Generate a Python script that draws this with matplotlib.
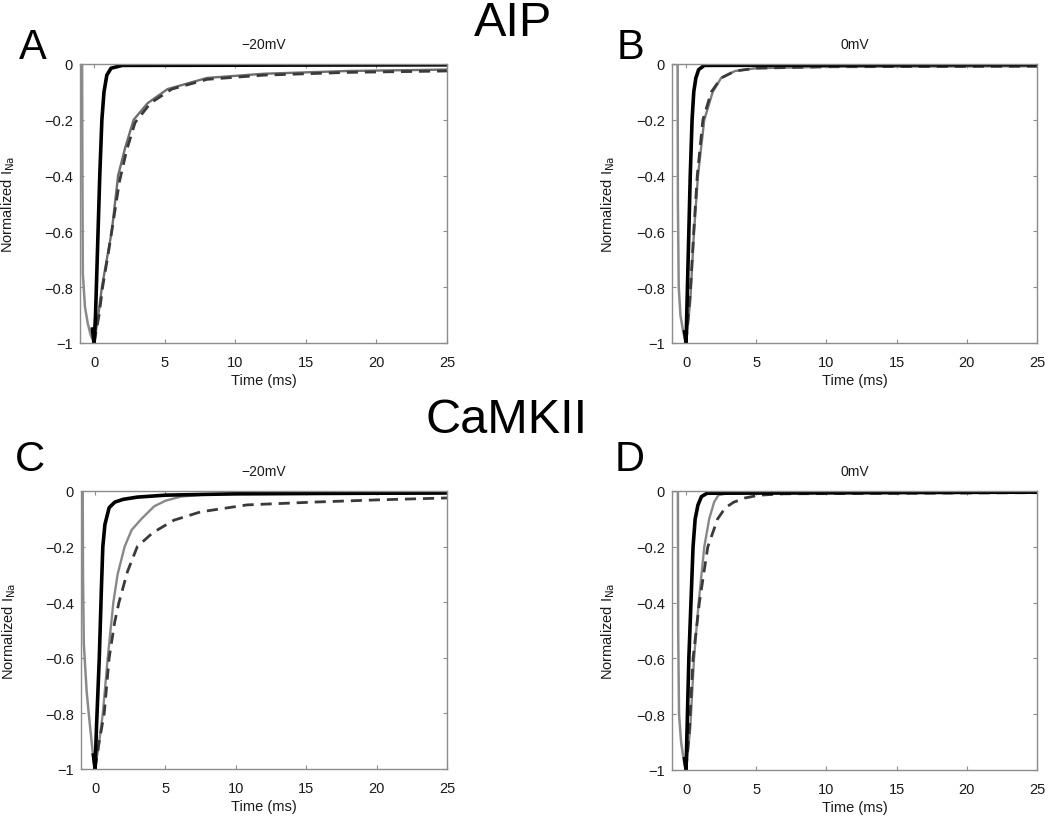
import matplotlib
matplotlib.use("Agg")
import matplotlib.pyplot as plt

plt.rcParams['font.family'] = ['Liberation Sans', 'DejaVu Sans']

# ---------------- data ----------------
# Panel A: AIP, -20 mV
a_act_t = [-0.85, -0.83, -0.8, -0.65, -0.45, -0.25, 0.0]
a_act_v = [0.0, -0.4, -0.75, -0.87, -0.93, -0.97, -1.0]
a_black_t = [-0.12, 0, 0.1, 0.25, 0.4, 0.55, 0.7, 0.9, 1.2, 2, 25]
a_black_v = [-0.95, -1, -0.9, -0.65, -0.4, -0.2, -0.1, -0.04, -0.015, -0.005, -0.003]
a_gray_t = [0, 0.3, 0.55, 0.9, 1.25, 1.7, 2.2, 2.8, 3.8, 5.2, 8, 12, 18, 25]
a_gray_v = [-1, -0.9, -0.8, -0.7, -0.6, -0.4, -0.3, -0.2, -0.14, -0.09, -0.05, -0.035, -0.025, -0.02]
a_dash_t = [0, 0.35, 0.6, 1.0, 1.4, 1.8, 2.3, 2.9, 4, 5.5, 8, 12, 18, 25]
a_dash_v = [-1, -0.9, -0.8, -0.68, -0.55, -0.42, -0.31, -0.21, -0.14, -0.09, -0.055, -0.04, -0.03, -0.025]

# Panel B: AIP, 0 mV
b_act_t = [-0.6, -0.58, -0.52, -0.4, -0.2, 0.0]
b_act_v = [0.0, -0.5, -0.8, -0.9, -0.96, -1.0]
b_black_t = [-0.1, 0, 0.1, 0.2, 0.3, 0.43, 0.55, 0.7, 0.9, 1.3, 25]
b_black_v = [-0.96, -1, -0.8, -0.6, -0.4, -0.2, -0.1, -0.05, -0.02, -0.005, -0.002]
b_gray_t = [0, 0.3, 0.57, 0.85, 1.3, 1.9, 2.5, 3.5, 5, 10, 25]
b_gray_v = [-1, -0.85, -0.6, -0.4, -0.2, -0.1, -0.05, -0.025, -0.015, -0.01, -0.008]
b_dash_t = [0, 0.3, 0.55, 0.8, 1.2, 1.8, 2.5, 3.5, 5, 10, 25]
b_dash_v = [-1, -0.82, -0.6, -0.4, -0.2, -0.1, -0.05, -0.025, -0.015, -0.01, -0.008]

# Panel C: CaMKII, -20 mV
c_act_t = [-0.88, -0.86, -0.8, -0.6, -0.45, -0.25, -0.1, 0.0]
c_act_v = [0.0, -0.3, -0.55, -0.72, -0.8, -0.9, -0.97, -1.0]
c_black_t = [-0.12, 0, 0.1, 0.3, 0.45, 0.55, 0.7, 1.0, 1.4, 2, 3, 5, 10, 25]
c_black_v = [-0.95, -1, -0.85, -0.6, -0.35, -0.2, -0.12, -0.06, -0.04, -0.03, -0.022, -0.015, -0.01, -0.007]
c_gray_t = [0, 0.3, 0.55, 0.9, 1.3, 1.6, 2.1, 2.6, 3.3, 4.2, 5, 6.1, 8, 25]
c_gray_v = [-1, -0.9, -0.8, -0.6, -0.4, -0.3, -0.2, -0.14, -0.1, -0.055, -0.035, -0.02, -0.012, -0.008]
c_dash_t = [0, 0.3, 0.65, 1.0, 1.4, 1.7, 2.3, 3.0, 4.1, 5.6, 7.5, 10.8, 15.5, 20, 25]
c_dash_v = [-1, -0.9, -0.8, -0.6, -0.47, -0.4, -0.29, -0.2, -0.15, -0.105, -0.075, -0.05, -0.04, -0.032, -0.025]

# Panel D: CaMKII, 0 mV
d_act_t = [-0.58, -0.56, -0.5, -0.35, -0.15, 0.0]
d_act_v = [0.0, -0.5, -0.8, -0.9, -0.97, -1.0]
d_black_t = [-0.1, 0, 0.1, 0.2, 0.35, 0.5, 0.65, 0.85, 1.1, 1.5, 25]
d_black_v = [-0.96, -1, -0.8, -0.6, -0.4, -0.2, -0.1, -0.05, -0.02, -0.008, -0.004]
d_gray_t = [0, 0.3, 0.57, 0.9, 1.3, 1.65, 2.0, 2.3, 3, 25]
d_gray_v = [-1, -0.85, -0.6, -0.4, -0.2, -0.1, -0.04, -0.015, -0.008, -0.005]
d_dash_t = [0, 0.25, 0.5, 0.95, 1.55, 2.25, 2.8, 3.4, 4.2, 5.2, 7, 25]
d_dash_v = [-1, -0.85, -0.6, -0.4, -0.2, -0.1, -0.06, -0.04, -0.025, -0.015, -0.01, -0.006]

x_ticks = [0, 5, 10, 15, 20, 25]
x_tick_labels = ['0', '5', '10', '15', '20', '25']
y_ticks = [-1, -0.8, -0.6, -0.4, -0.2, 0]
y_tick_labels = ['\u22121', '\u22120.8', '\u22120.6', '\u22120.4', '\u22120.2', '0']

panel_letters = ['A', 'B', 'C', 'D']
panel_titles = ['\u221220mV', '0mV', '\u221220mV', '0mV']
group_titles = ['AIP', 'CaMKII']

# ---------------- figure ----------------
W, H = 1050, 820
fig = plt.figure(figsize=(W / 100, H / 100), dpi=100)

def px_axes(l, r, t, b):
    return fig.add_axes([l / W, 1 - b / H, (r - l) / W, (b - t) / H])

boxes = [(80, 447, 65, 344), (672, 1037, 65, 344),
         (81, 447, 492, 770), (672, 1037, 492, 771)]
ylabel_x = [-0.172, -0.152, -0.172, -0.152]

panels = [
    (a_act_t, a_act_v, a_black_t, a_black_v, a_gray_t, a_gray_v, a_dash_t, a_dash_v),
    (b_act_t, b_act_v, b_black_t, b_black_v, b_gray_t, b_gray_v, b_dash_t, b_dash_v),
    (c_act_t, c_act_v, c_black_t, c_black_v, c_gray_t, c_gray_v, c_dash_t, c_dash_v),
    (d_act_t, d_act_v, d_black_t, d_black_v, d_gray_t, d_gray_v, d_dash_t, d_dash_v),
]

spine_col = '#8c8c8c'
text_col = '#1a1a1a'
gray_cols = ['#6e6e6e', '#7a7a7a', '#888888', '#888888']

for i, (box, data) in enumerate(zip(boxes, panels)):
    ax = px_axes(*box)
    act_t, act_v, bk_t, bk_v, gr_t, gr_v, ds_t, ds_v = data
    ax.plot([-1] + act_t, [0] + act_v, color='#8a8a8a', lw=1.8, solid_joinstyle='round')
    ax.plot(gr_t, gr_v, color=gray_cols[i], lw=1.7)
    ax.plot(ds_t, ds_v, color='#3a3a3a', lw=2.0, dashes=(4, 2.5))
    ax.plot(bk_t, bk_v, color='black', lw=2.6, solid_joinstyle='round')
    ax.set_xlim(-1, 25)
    ax.set_ylim(-1, 0)
    ax.set_xticks(x_ticks)
    ax.set_xticklabels(x_tick_labels)
    ax.set_yticks(y_ticks)
    ax.set_yticklabels(y_tick_labels)
    ax.tick_params(direction='in', top=True, right=True, length=3, width=0.8,
                   colors=spine_col, labelcolor=text_col, labelsize=10.5, pad=5)
    ax.tick_params(axis='x', pad=9)
    for s in ax.spines.values():
        s.set_color(spine_col)
        s.set_linewidth(1.0)
    ax.set_xlabel('Time (ms)', fontsize=10.5, color=text_col)
    ax.xaxis.set_label_coords(0.5, -0.108)
    ax.set_ylabel('Normalized I$_{\\mathrm{Na}}$', fontsize=10.5, color=text_col)
    ax.yaxis.set_label_coords(ylabel_x[i], 0.5)
    ax.text(0.5, 1 + 20 / 279, panel_titles[i], transform=ax.transAxes,
            ha='center', va='center', fontsize=10, color=text_col)

letter_pos = [(33, 48), (630, 48), (30, 460), (630, 460)]
for L, (x, y) in zip(panel_letters, letter_pos):
    fig.text(x / W, 1 - y / H, L, ha='center', va='center', fontsize=30, color='black')

fig.text(513 / W, 1 - 23 / H, group_titles[0], ha='center', va='center', fontsize=35, color='black')
fig.text(507 / W, 1 - 421 / H, group_titles[1], ha='center', va='center', fontsize=35, color='black')

fig.savefig('out.png', dpi=100)
